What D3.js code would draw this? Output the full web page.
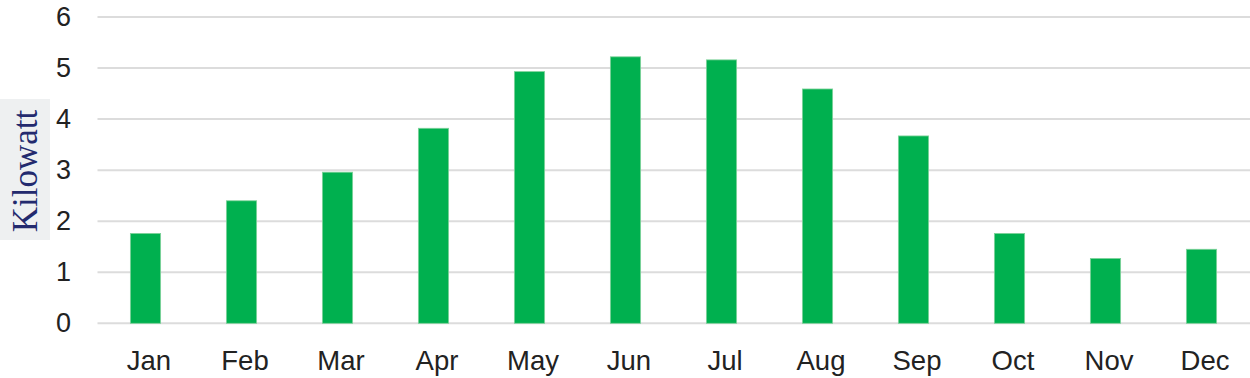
<!DOCTYPE html>
<html>
<head>
<meta charset="utf-8">
<script src="https://cdn.jsdelivr.net/npm/d3@7"></script>
<style>
  html, body { margin: 0; padding: 0; background: #fff; }
  svg { display: block; }
</style>
</head>
<body>
<svg id="chart" width="1250" height="378"></svg>
<script>
const months = ["Jan","Feb","Mar","Apr","May","Jun","Jul","Aug","Sep","Oct","Nov","Dec"];
const kilowatt = [1.76, 2.40, 2.96, 3.82, 4.93, 5.22, 5.16, 4.59, 3.67, 1.76, 1.27, 1.45];
const yTicks = [0, 1, 2, 3, 4, 5, 6];
const yLabel = "Kilowatt";

const svg = d3.select("#chart");
const W = 1250, H = 378;
const m = { left: 97.5, right: 0.5, top: 17, bottom: 54.7 };

const x = d3.scaleBand().domain(months).range([m.left, W - m.right]).paddingInner(0.685).paddingOuter(0.3425);
const y = d3.scaleLinear().domain([0, 6]).range([H - m.bottom, m.top]);

// gridlines
svg.append("g").selectAll("line").data(yTicks).join("line")
  .attr("x1", m.left).attr("x2", W)
  .attr("y1", d => y(d)).attr("y2", d => y(d))
  .attr("stroke", "#dcdcdc").attr("stroke-width", 2);

// y tick labels
svg.append("g").selectAll("text").data(yTicks).join("text")
  .attr("x", 71).attr("y", d => y(d))
  .attr("dy", "0.33em")
  .attr("text-anchor", "end")
  .attr("font-family", "Liberation Sans, Arial, sans-serif")
  .attr("font-size", 27)
  .attr("fill", "#222")
  .text(d => d);

// bars
svg.append("g").selectAll("rect").data(months).join("rect")
  .attr("x", d => x(d))
  .attr("width", x.bandwidth())
  .attr("y", (d, i) => y(kilowatt[i]))
  .attr("height", (d, i) => y(0) - y(kilowatt[i]))
  .attr("fill", "#00b04f")
  .attr("stroke", "#7fd29a")
  .attr("stroke-width", 0.8);

// x labels
svg.append("g").selectAll("text").data(months).join("text")
  .attr("x", d => x(d) + x.bandwidth() / 2 + 3.5)
  .attr("y", 370)
  .attr("text-anchor", "middle")
  .attr("font-family", "Liberation Sans, Arial, sans-serif")
  .attr("font-size", 27.5)
  .attr("fill", "#222")
  .text(d => d);

// y axis title with background box
svg.append("rect")
  .attr("x", 0).attr("y", 99).attr("width", 50).attr("height", 141)
  .attr("fill", "#eef0f1");
svg.append("text")
  .attr("transform", "translate(37,171) rotate(-90)")
  .attr("text-anchor", "middle")
  .attr("font-family", "Liberation Serif, Times New Roman, serif")
  .attr("font-size", 35)
  .attr("fill", "#232a6e")
  .text(yLabel);
</script>
</body>
</html>
